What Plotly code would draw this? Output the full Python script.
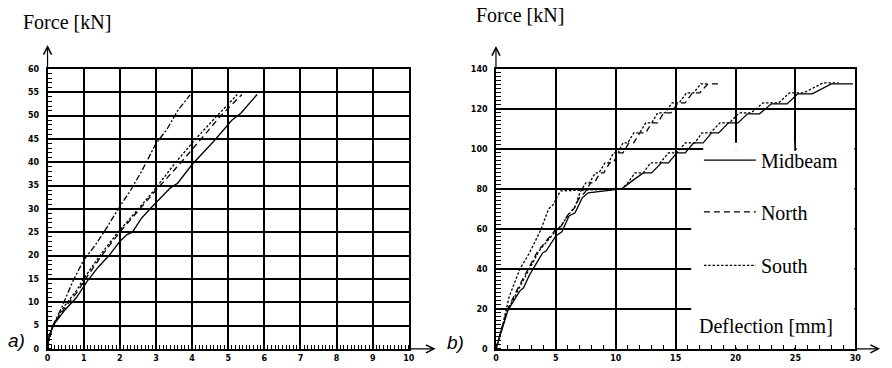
import plotly.graph_objects as go

# ---------------- data: panel a) ----------------
a_steep_x = [0, 0.05, 0.15, 0.4, 0.7, 1.0, 1.3, 1.6, 2.0, 2.3, 2.6, 3.0, 3.3, 3.6, 3.95]
a_steep_y = [0, 2, 5, 9, 14.5, 19, 22, 25.5, 30.5, 34, 38, 44, 47, 51, 54.5]

a_mid_x = [0, 0.05, 0.2, 0.5, 0.8, 1.1, 1.4, 1.7, 2.0, 2.2, 2.35, 2.6, 2.9, 3.4, 3.6, 4.0, 4.6, 5.1, 5.35, 5.8]
a_mid_y = [0, 3, 5.5, 8.5, 11, 14.5, 17.5, 20, 23, 24.5, 25, 28, 30.5, 34.5, 35.5, 39.5, 44.5, 49, 50.5, 54.5]

a_north_x = [0, 0.05, 0.15, 0.5, 0.85, 1.05, 1.5, 2.0, 2.5, 3.0, 3.7, 4.2, 4.8, 5.38]
a_north_y = [0, 3, 5, 9, 12.5, 15, 20, 25, 29.5, 34, 40, 44.5, 50, 54.5]

a_south_x = [0, 0.05, 0.15, 0.45, 0.8, 1.0, 1.45, 1.9, 2.4, 2.9, 3.55, 4.1, 4.7, 5.25]
a_south_y = [0, 3, 5, 9, 12.5, 15, 20, 24.5, 29, 33.5, 40, 45, 50, 54.5]

# ---------------- data: panel b) ----------------
b_mid_x = [0, 0.5, 1.0, 2.0, 2.3, 2.8, 3.9, 4.2, 5.0, 5.5, 6.1, 6.6, 7.2, 7.7, 10.5, 11.6, 12.3, 13.0,
           13.8, 14.4, 15.1, 15.8, 16.5, 17.3, 18.0, 18.6, 19.4, 20.2, 21.0, 22.0, 23.0, 24.3, 25.2,
           26.4, 28.0, 29.8]
b_mid_y = [0, 10, 19.4, 29, 30.5, 37, 48, 49, 56.5, 58.5, 66.5, 68, 75.5, 78, 80, 85, 88, 88,
           93, 93, 98, 98, 103, 103, 108, 108, 113, 113, 117.5, 117.5, 122.5, 122.5, 127.5,
           127.5, 132.5, 132.5]

b_south2_x = [0, 0.3, 0.6, 1.1, 2.0, 2.8, 3.7, 4.4, 4.85, 5.0, 5.4, 8.0, 10.5, 11.0, 11.6, 12.3,
              12.9, 13.7, 14.4, 15.1, 15.8, 16.6, 17.2, 17.9, 18.7, 19.5, 20.3, 21.3, 22.3, 23.6,
              24.5, 25.7, 27.3, 28.6]
b_south2_y = [0, 6, 13, 26, 40, 48, 59, 70, 72.5, 75, 79, 79.5, 80, 83, 88, 88, 93, 93, 98, 98,
              103, 103, 108, 108, 113, 113, 118, 118, 123, 123, 128, 128, 133, 133]

b_north_x = [0, 0.4, 0.9, 1.8, 2.7, 3.5, 4.9, 5.4, 6.0, 6.5, 7.0, 7.4, 7.9, 8.2, 8.7, 9.0, 9.5, 9.8,
             10.2, 10.6, 11.1, 11.5, 12.0, 12.5, 13.0, 13.5, 14.0, 14.6, 15.2, 15.8, 16.4, 17.0,
             17.7, 18.8]
b_north_y = [0, 9, 19, 30, 40, 49, 59, 61, 67, 70, 76, 78, 83, 83, 88, 88, 93, 93,
             98, 98, 103, 103, 108, 108, 113, 113, 118, 118, 123, 123, 128, 128, 132.5, 132.5]

b_south_x = [0, 0.45, 0.95, 1.9, 2.8, 3.6, 5.0, 5.5, 6.1, 6.6, 7.0, 7.5, 7.8, 8.3, 8.6, 9.1, 9.4,
             9.8, 10.2, 10.6, 11.0, 11.5, 12.0, 12.5, 13.0, 13.5, 14.1, 14.7, 15.3, 15.9, 16.5,
             17.1, 17.8]
b_south_y = [0, 9, 19, 30, 40, 49, 59, 62, 67.5, 71, 78, 83, 83, 88, 88, 93, 93,
             98, 98, 103, 103, 108, 108, 113, 113, 118, 118, 123, 123, 128, 128,
             132.5, 132.5]

a_xticks = list(range(0, 11))
a_yticks = list(range(0, 61, 5))
b_xticks = list(range(0, 31, 5))
b_yticks = list(range(0, 141, 20))

# ---------------- geometry ----------------
W, H = 892, 368
def PX(p):
    return p / W
def PY(p):
    return (H - p) / H

ya_bot, ya_top = 353.5, 66.5
dom_y = [PY(ya_bot), PY(ya_top)]

LW = 1.3
SERIF = "Liberation Serif"
tickfont = dict(family="DejaVu Sans", size=8, color="black", weight="bold")

fig = go.Figure()

def add(x, y, dash, xa, ya, name, legend=None, show=False):
    fig.add_trace(go.Scatter(
        x=x, y=y, mode="lines", name=name,
        line=dict(color="black", width=LW, dash=dash),
        xaxis=xa, yaxis=ya, showlegend=show,
        legend=legend if legend else "legend",
        hoverinfo="skip"))

DASH = "6px,4px"
DOT = "2.5px,1.8px"
DASHDOT = "6px,2px,2px,2px"

add(a_steep_x, a_steep_y, DASHDOT, "x", "y", "a steep")
add(a_south_x, a_south_y, DOT, "x", "y", "a South")
add(a_north_x, a_north_y, DASH, "x", "y", "a North")
add(a_mid_x, a_mid_y, "solid", "x", "y", "a Midbeam")

add(b_mid_x, b_mid_y, "solid", "x2", "y2", "Midbeam", "legend", True)
add(b_north_x, b_north_y, DASH, "x2", "y2", "North", "legend2", True)
add(b_south_x, b_south_y, DOT, "x2", "y2", "South", "legend3", True)
add(b_south2_x, b_south2_y, DOT, "x2", "y2", "South (2)")

def xaxis(dom, rng, ticks, minor, anchor):
    return dict(domain=dom, range=rng, tickvals=ticks, showgrid=True, gridcolor="black",
                gridwidth=1.5, showline=True, linecolor="black", linewidth=1.6, mirror=True,
                ticks="", tickfont=tickfont, zeroline=False, fixedrange=True, anchor=anchor,
                ticklabelstandoff=1,
                minor=dict(dtick=minor, ticks="inside", ticklen=4, tickcolor="black",
                           tickwidth=1, showgrid=False))

def yaxis(anchor, rng, ticks, minor):
    return dict(domain=dom_y, range=rng, tickvals=ticks, showgrid=True, gridcolor="black",
                gridwidth=1.5, showline=True, linecolor="black", linewidth=1.6, mirror=True,
                ticks="", tickfont=tickfont, zeroline=False, fixedrange=True, anchor=anchor,
                ticklabelstandoff=5,
                minor=dict(dtick=minor, ticks="inside", ticklen=5, tickcolor="black",
                           tickwidth=1, showgrid=False))

leg = dict(font=dict(family=SERIF, size=20, color="black"), bgcolor="rgba(0,0,0,0)",
           xanchor="left", yanchor="middle", itemwidth=52, borderwidth=0)

fig.update_layout(
    width=W, height=H, margin=dict(l=0, r=0, t=0, b=0),
    paper_bgcolor="white", plot_bgcolor="white",
    xaxis=xaxis([PX(45), PX(410)], [0, 10], a_xticks, 0.1, "y"),
    yaxis=yaxis("x", [0, 60], a_yticks, 1),
    xaxis2=xaxis([PX(498), PX(861)], [0, 30], b_xticks, 1, "y2"),
    yaxis2=yaxis("x2", [0, 140], b_yticks, 2),
    legend=dict(leg, x=PX(703), y=PY(160)),
    legend2=dict(leg, x=PX(703), y=PY(213)),
    legend3=dict(leg, x=PX(703), y=PY(268)),
)

# blank the grid behind the legend area of panel b)
fig.add_shape(type="rect", xref="x2", yref="y2", x0=16.3, x1=29.93, y0=0.6, y1=99,
              fillcolor="white", line_width=0, layer="between")
fig.add_shape(type="rect", xref="x2", yref="y2", x0=17.3, x1=24.9, y0=99, y1=103,
              fillcolor="white", line_width=0, layer="between")
fig.add_shape(type="rect", xref="x2", yref="y2", x0=25.1, x1=29.93, y0=99, y1=112,
              fillcolor="white", line_width=0, layer="between")

ann = []
def arrow(x0, y0, x1, y1):
    ann.append(dict(xref="paper", yref="paper",
                    x=PX(x1), y=PY(y1), ax=x0 - x1, ay=y0 - y1, text="", showarrow=True,
                    arrowhead=5, arrowsize=1.3, arrowwidth=1.2, arrowcolor="black"))

arrow(45, ya_top, 45, 42)
arrow(410, ya_bot, 437, ya_bot)
arrow(498, ya_top, 498, 43)
arrow(861, ya_bot, 886, ya_bot)

def text(t, x, y, size=20, family=SERIF, xanchor="left", italic=False):
    ann.append(dict(xref="paper", yref="paper", x=PX(x), y=PY(y), text=t,
                    showarrow=False, xanchor=xanchor, yanchor="middle",
                    font=dict(family=family, size=size, color="black",
                              style="italic" if italic else "normal")))

text("Force [kN]", 18, 18)
text("Force [kN]", 476, 11)
text("Deflection [mm]", 701, 330)
text("a)", 3, 345, size=19, family="Liberation Sans", italic=True)
text("b)", 447, 347, size=19, family="Liberation Sans", italic=True)

fig.update_layout(annotations=ann)
fig.write_html("out.html", config={"displayModeBar": False},
               post_script="document.body.style.margin='0px';")
